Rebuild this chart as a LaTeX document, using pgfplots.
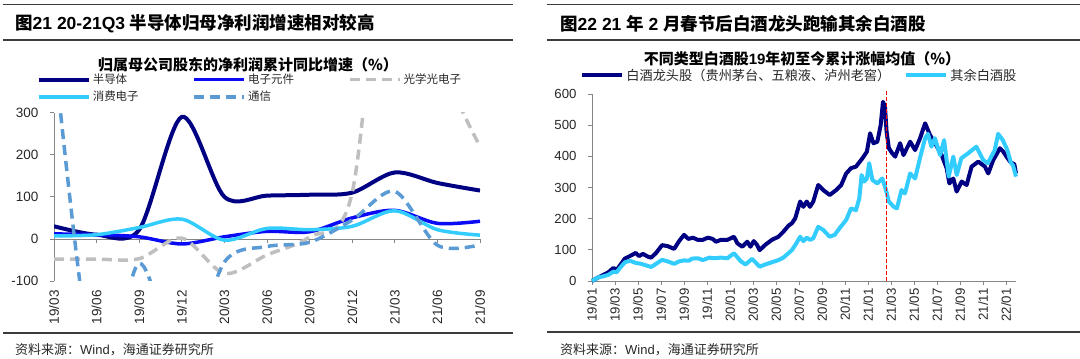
\documentclass[border=0pt]{standalone}
\usepackage{pgfplots}
\pgfplotsset{compat=1.18}
\usepackage{pgfplotstable}
\usepackage{fontspec}
\setmainfont{Liberation Sans}
\newfontfamily\cjk{Noto Sans CJK SC}
\definecolor{navyc}{RGB}{0,0,130}
\definecolor{bluec}{RGB}{10,10,245}
\definecolor{grayc}{RGB}{191,191,191}
\definecolor{cyanc}{RGB}{51,204,255}
\definecolor{telec}{RGB}{91,155,213}
\definecolor{axisgray}{RGB}{134,134,134}
\definecolor{rulec}{RGB}{60,60,60}
\definecolor{txtc}{RGB}{40,40,40}

\pgfplotstableread{
q semi elec opto cons tele
0 30 12 -48 7 450
1 10 10 -48 10 -350
2 22 5 -47 27 -58
3 290 -12 2 47 -300
4 100 5 -82 -3 -55
5 103 18 -38 25 -18
6 105 17 5 22 -8
7 110 50 110 30 45
8 158 68 900 67 113
9 133 37 450 22 -15
10 115 42 220 9 -14
}\leftdata

\pgfplotstableread{
m v
0 0
0.57 12
1.0 20
1.43 28
1.86 42
2.14 35
2.43 50
2.86 72
3.29 80
3.8 90
4.09 80
4.43 87
4.86 78
5.14 75
5.57 90
6.09 115
6.57 112
7.14 103
7.57 128
8.0 148
8.37 135
8.77 139
9.2 132
9.63 132
10.06 139
10.49 135
10.77 126
11.2 132
11.77 132
12.34 142
12.63 121
13.06 110
13.49 126
13.77 110
14.06 128
14.34 116
14.57 99
15.06 116
15.63 132
16.2 142
16.63 158
17.09 178
17.37 185
17.66 201
18.09 255
18.37 238
18.66 255
18.94 238
19.23 255
19.66 308
20.09 292
20.66 276
21.23 292
21.66 308
22.09 345
22.51 362
22.94 367
23.51 394
23.89 415
24.17 474
24.46 442
24.8 447
25.09 500
25.29 575
25.46 560
25.6 480
25.8 426
26.09 410
26.35 399
26.78 442
27.07 404
27.65 447
28.08 420
28.51 458
28.95 506
29.38 468
29.82 442
30.39 404
30.83 361
31.06 313
31.4 329
31.69 287
32.13 319
32.56 308
32.99 367
33.57 383
34.15 367
34.44 345
34.87 388
35.45 426
35.74 415
36.1 395
36.4 380
36.7 375
36.85 345
}\leadtab

\pgfplotstableread{
m v
0 0
0.57 12
1.0 15
1.43 20
1.86 30
2.14 28
2.43 42
2.86 60
3.29 65
3.8 58
4.29 55
4.71 50
5.14 45
5.57 55
6.09 68
6.57 63
7.14 55
7.57 63
8.0 66
8.43 65
8.71 72
9.2 73
9.63 67
10.2 75
10.63 73
11.2 75
11.77 73
12.34 89
12.91 64
13.34 53
13.91 71
14.2 60
14.57 46
15.06 53
15.63 60
16.2 67
16.63 75
17.06 89
17.37 99
17.66 115
18.09 142
18.37 128
18.66 139
18.94 132
19.23 137
19.66 174
20.09 164
20.66 142
21.09 148
21.51 169
22.09 196
22.51 233
22.94 227
23.23 265
23.43 340
23.66 319
23.89 329
24.09 378
24.37 324
24.8 313
25.23 329
25.51 297
25.8 255
26.23 238
26.5 233
26.9 292
27.2 281
27.65 345
28.08 329
28.5 394
28.95 458
29.2 472
29.5 431
29.8 458
30.25 404
30.6 452
31.0 335
31.4 399
31.7 340
32.1 394
32.7 410
33.4 431
34.0 388
34.4 378
35.0 420
35.3 472
35.7 452
36.1 420
36.4 380
36.6 370
36.85 335
}\resttab

\begin{document}
\begin{tikzpicture}[x=1pt,y=1pt]
\path[use as bounding box] (0,0) rectangle (1080,359);

% ---------- left panel frame ----------
\draw[rulec, line width=1.4pt] (3,354.5) -- (513,354.5);
\draw[rulec, line width=1.4pt] (3,319) -- (513,319);
\node[anchor=west, inner sep=0pt, font=\fontsize{17.5}{20}\selectfont\bfseries] at (15,335.5) {{\cjk 图}21 20-21Q3 {\cjk 半导体归母净利润增速相对较高}};
\node[anchor=center, inner sep=0pt, font=\fontsize{15}{17}\selectfont\bfseries\cjk] at (248,294.5) {归属母公司股东的净利润累计同比增速（\%）};
\draw[rulec, line width=1.4pt] (3,26) -- (513,26);
\node[anchor=west, inner sep=0pt, text=txtc, font=\fontsize{13}{15}\selectfont] at (15,9) {{\cjk 资料来源：}Wind{\cjk ，海通证券研究所}};

% ---------- right panel frame ----------
\draw[rulec, line width=1.4pt] (547,354.5) -- (1080,354.5);
\draw[rulec, line width=1.4pt] (547,319) -- (1080,319);
\node[anchor=west, inner sep=0pt, font=\fontsize{17.5}{20}\selectfont\bfseries] at (560,335.5) {{\cjk 图}22 21 {\cjk 年} 2 {\cjk 月春节后白酒龙头跑输其余白酒股}};
\node[anchor=center, inner sep=0pt, font=\fontsize{15}{17}\selectfont\bfseries] at (802,300) {{\cjk 不同类型白酒股}19{\cjk 年初至今累计涨幅均值（\%）}};
\draw[rulec, line width=1.4pt] (547,27) -- (1080,27);
\node[anchor=west, inner sep=0pt, text=txtc, font=\fontsize{13}{15}\selectfont] at (560,9) {{\cjk 资料来源：}Wind{\cjk ，海通证券研究所}};

% ---------- left axis ----------
\begin{axis}[
  at={(54pt,78pt)}, anchor=south west,
  scale only axis, width=426pt, height=168.3pt,
  xmin=0, xmax=10, ymin=-100, ymax=300,
  axis x line=middle, axis y line=left,
  axis line style={-, draw=axisgray, line width=0.8pt},
  hide obscured x ticks=false, hide obscured y ticks=false,
  xtick={0,...,10},
  xticklabels={19/03,19/06,19/09,19/12,20/03,20/06,20/09,20/12,21/03,21/06,21/09},
  ytick={-100,0,100,200,300},
  tick align=outside, major tick length=4pt,
  tick style={draw=axisgray, line width=0.8pt},
  ticklabel style={font=\fontsize{13.5}{15}\selectfont, text=txtc},
  xticklabel style={rotate=90, anchor=east},
  xticklabel shift=44pt,
  yticklabel style={xshift=-8pt},
  /pgf/number format/assume math mode=true,
  legend columns=3,
  legend cell align=left,
  legend image code/.code={\draw[#1] (0pt,0pt) -- (50pt,0pt);},
  legend style={draw=none, fill=none, at={(-0.048,1.255)}, anchor=north west,
    font=\fontsize{11.5}{13}\selectfont\cjk, text=txtc,
    nodes={inner sep=2pt},
    /tikz/every even column/.append style={column sep=52pt},
    row sep=2pt},
  every axis plot/.append style={smooth, tension=0.5},
]
\addplot[navyc, line width=4pt] table[x=q, y=semi] {\leftdata};
\addlegendentry{半导体}
\addplot[bluec, line width=3.5pt] table[x=q, y=elec] {\leftdata};
\addlegendentry{电子元件}
\addplot[grayc, line width=3.5pt, dash pattern=on 10pt off 6pt] table[x=q, y=opto] {\leftdata};
\addlegendentry{光学光电子}
\addplot[cyanc, line width=3.5pt] table[x=q, y=cons] {\leftdata};
\addlegendentry{消费电子}
\addplot[telec, line width=3.5pt, dash pattern=on 10pt off 6pt] table[x=q, y=tele] {\leftdata};
\addlegendentry{通信}
\end{axis}

% ---------- right axis ----------
\begin{axis}[
  at={(592pt,78pt)}, anchor=south west,
  scale only axis, width=424pt, height=187pt,
  xmin=0, xmax=36.85, ymin=0, ymax=600,
  axis x line=bottom, axis y line=left,
  axis line style={-, draw=axisgray, line width=0.8pt},
  xtick={0,2,...,36},
  xticklabels={19/01,19/03,19/05,19/07,19/09,19/11,20/01,20/03,20/05,20/07,20/09,20/11,21/01,21/03,21/05,21/07,21/09,21/11,22/01},
  ytick={0,100,...,600},
  tick align=outside, major tick length=4pt,
  tick style={draw=axisgray, line width=0.8pt},
  ticklabel style={font=\fontsize{13.2}{15}\selectfont, text=txtc},
  xticklabel style={rotate=90, anchor=east},
  yticklabel style={xshift=-8pt},
  /pgf/number format/assume math mode=true,
  clip=false,
  legend columns=2,
  legend cell align=left,
  legend image code/.code={\draw[#1] (0pt,0pt) -- (40pt,0pt);},
  legend style={draw=none, fill=none, at={(-0.035,1.10)}, anchor=west,
    font=\fontsize{13.2}{14}\selectfont\cjk, text=txtc,
    nodes={inner sep=2pt},
    /tikz/every even column/.append style={column sep=12pt}},
]
\addplot[navyc, line width=4pt, line join=round] table[x=m, y=v] {\leadtab};
\addlegendentry{白酒龙头股（贵州茅台、五粮液、泸州老窖）}
\addplot[cyanc, line width=4pt, line join=round] table[x=m, y=v] {\resttab};
\addlegendentry{其余白酒股}
\addplot[red, line width=1.2pt, dash pattern=on 4pt off 2pt, forget plot] coordinates {(25.57,0) (25.57,612)};
\end{axis}
\end{tikzpicture}
\end{document}
